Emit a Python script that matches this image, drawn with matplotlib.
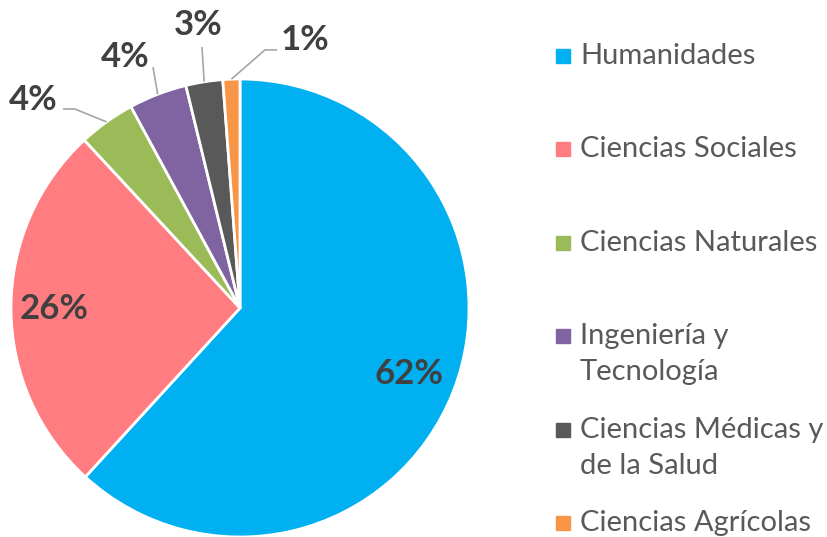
import numpy as np
import matplotlib
matplotlib.use("Agg")
import matplotlib.pyplot as plt

# data
categories = ["Humanidades", "Ciencias Sociales", "Ciencias Naturales",
              "Ingeniería y\nTecnología", "Ciencias Médicas y\nde la Salud",
              "Ciencias Agrícolas"]
values = [61.8, 26.3, 4.0, 4.1, 2.6, 1.2]
pct_labels = ["62%", "26%", "4%", "4%", "3%", "1%"]
colors = ["#00B0F0", "#FF7C80", "#9BBB59", "#8064A2", "#595959", "#F79646"]

plt.rcParams['font.family'] = ['Lato', 'DejaVu Sans']

fig = plt.figure(figsize=(8.28, 5.37), dpi=100)
# pie axes: centre ~ (240, 308) px, radius ~229 px
ax = fig.add_axes([11 / 828, 0.0, 458 / 828, 458 / 537])

wedges, _ = ax.pie(values, colors=colors, startangle=90, counterclock=False,
                   radius=1.0, wedgeprops=dict(edgecolor="white", linewidth=2))
ax.set_xlim(-1, 1)
ax.set_ylim(-1, 1)
ax.set_aspect("equal")
ax.axis("off")

lbl_color = "#404040"
lead_color = "#A6A6A6"

# inside labels (first two slices)
inside_r = [0.79, 0.81]
# outside labels: text position, elbow point and start of leader line
outside = {
    2: ((-0.904, 0.908), (-0.721, 0.869), (-0.773, 0.869)),
    3: ((-0.502, 1.096), None, (-0.380, 1.052)),
    4: ((-0.183, 1.236), None, (-0.166, 1.140)),
    5: ((0.285, 1.170), (0.109, 1.127), (0.162, 1.127)),
}

for i, w in enumerate(wedges):
    mid = np.deg2rad((w.theta1 + w.theta2) / 2)
    cx, cy = np.cos(mid), np.sin(mid)
    if i in (0, 1):
        r = inside_r[i]
        ax.text(r * cx, r * cy, pct_labels[i], ha="center", va="center",
                fontsize=25, fontweight="bold", color=lbl_color)
    else:
        (tx, ty), elbow, start = outside[i]
        pts = [start]
        if elbow is not None:
            pts.append(elbow)
        pts.append((cx, cy))
        xs, ys = zip(*pts)
        ax.plot(xs, ys, color=lead_color, lw=1.2, clip_on=False,
                solid_capstyle="butt")
        ax.text(tx, ty, pct_labels[i], ha="center", va="center",
                fontsize=25, fontweight="bold", color=lbl_color, clip_on=False)

# legend, drawn by hand to match the layout
y0, step, line_h = 56, 93.4, 36
for i, (cat, col) in enumerate(zip(categories, colors)):
    y = y0 + i * step
    fig.patches.append(plt.Rectangle((556 / 828, 1 - (y + 7) / 537),
                                     14 / 828, 14 / 537, color=col,
                                     transform=fig.transFigure))
    for j, line in enumerate(cat.split("\n")):
        fig.text(580 / 828, 1 - (y + j * line_h) / 537, line,
                 ha="left", va="center", fontsize=21, color="#595959")

fig.savefig("out.png", dpi=100)
